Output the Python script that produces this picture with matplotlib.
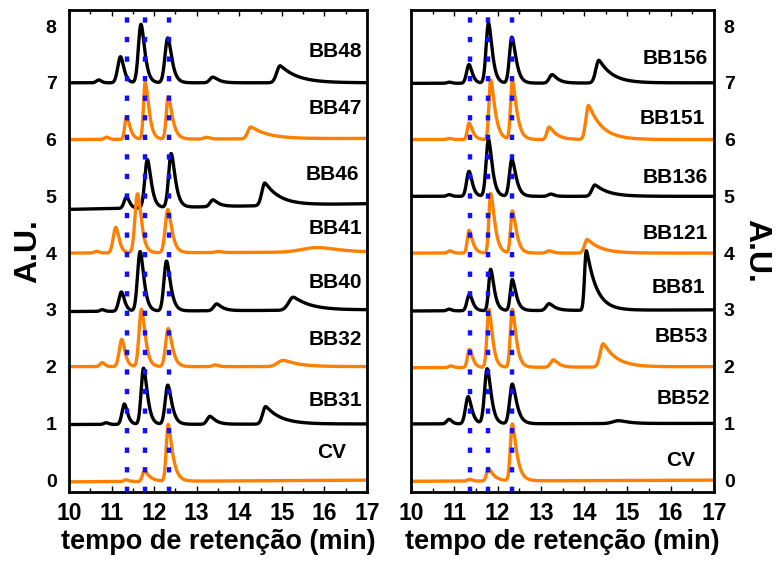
import numpy as np
import matplotlib
matplotlib.use("Agg")
import matplotlib.pyplot as plt

plt.rcParams['font.family'] = ['Liberation Sans', 'DejaVu Sans']
plt.rcParams['font.weight'] = 'bold'

bb48 = [(10.70, 0.05, 0.055, 0.055, 0.02), (11.21, 0.46, 0.065, 0.06, 0.05),
        (11.69, 1.03, 0.06, 0.065, 0.06), (12.32, 0.79, 0.065, 0.065, 0.07),
        (13.38, 0.10, 0.07, 0.07, 0.12), (14.96, 0.30, 0.08, 0.07, 0.40)]
bb47 = [(10.88, 0.04, 0.05, 0.05, 0.02), (11.35, 0.40, 0.04, 0.055, 0.06),
        (11.79, 1.00, 0.04, 0.06, 0.06), (12.33, 0.75, 0.045, 0.06, 0.08),
        (13.23, 0.03, 0.06, 0.06, 0.05), (14.27, 0.21, 0.07, 0.07, 0.40)]
bb46 = [(11.35, 0.20, 0.055, 0.055, 0.04), (11.84, 0.85, 0.06, 0.065, 0.06),
        (12.40, 0.95, 0.06, 0.065, 0.07), (13.38, 0.12, 0.065, 0.065, 0.12),
        (14.60, 0.40, 0.07, 0.06, 0.35)]
bb41 = [(10.65, 0.03, 0.05, 0.05, 0.02), (11.10, 0.45, 0.06, 0.055, 0.05),
        (11.61, 1.04, 0.06, 0.065, 0.06), (12.32, 0.76, 0.06, 0.065, 0.07),
        (13.50, 0.02, 0.06, 0.06, 0.05), (15.82, 0.08, 0.35, 0.40, 0.20)]
bb40 = [(10.78, 0.03, 0.05, 0.05, 0.02), (11.23, 0.34, 0.06, 0.055, 0.05),
        (11.67, 1.05, 0.06, 0.065, 0.06), (12.29, 0.88, 0.06, 0.065, 0.07),
        (13.47, 0.12, 0.07, 0.065, 0.12), (15.27, 0.23, 0.11, 0.09, 0.40)]
bb32 = [(10.78, 0.07, 0.05, 0.05, 0.03), (11.24, 0.48, 0.06, 0.055, 0.05),
        (11.70, 1.01, 0.055, 0.065, 0.06), (12.33, 0.67, 0.06, 0.065, 0.07),
        (13.43, 0.03, 0.06, 0.06, 0.05), (15.03, 0.11, 0.13, 0.11, 0.35)]
bb31 = [(10.87, 0.03, 0.05, 0.05, 0.02), (11.30, 0.36, 0.055, 0.055, 0.05),
        (11.75, 0.99, 0.055, 0.065, 0.06), (12.32, 0.69, 0.06, 0.065, 0.07),
        (13.31, 0.14, 0.065, 0.065, 0.12), (14.62, 0.31, 0.07, 0.06, 0.35)]
cv_a = [(11.34, 0.03, 0.05, 0.05, 0.03), (11.77, 0.19, 0.045, 0.05, 0.12),
        (12.33, 1.00, 0.045, 0.055, 0.09)]

bb156 = [(10.88, 0.02, 0.05, 0.05, 0.02), (11.34, 0.33, 0.055, 0.055, 0.05),
         (11.79, 1.06, 0.055, 0.06, 0.06), (12.33, 0.81, 0.055, 0.065, 0.07),
         (13.26, 0.15, 0.065, 0.065, 0.12), (14.34, 0.40, 0.07, 0.06, 0.30)]
bb151 = [(10.88, 0.02, 0.05, 0.05, 0.02), (11.34, 0.29, 0.04, 0.055, 0.06),
         (11.84, 1.05, 0.04, 0.06, 0.08), (12.34, 1.03, 0.04, 0.06, 0.08),
         (13.19, 0.22, 0.05, 0.06, 0.16), (14.10, 0.60, 0.06, 0.06, 0.30)]
bb136 = [(10.88, 0.03, 0.05, 0.05, 0.02), (11.34, 0.44, 0.055, 0.055, 0.05),
         (11.79, 1.00, 0.055, 0.06, 0.06), (12.33, 0.65, 0.055, 0.065, 0.07),
         (13.23, 0.04, 0.06, 0.06, 0.05), (14.25, 0.20, 0.07, 0.06, 0.30)]
bb121 = [(10.90, 0.04, 0.05, 0.05, 0.02), (11.34, 0.40, 0.04, 0.055, 0.06),
         (11.84, 1.05, 0.04, 0.06, 0.07), (12.34, 0.74, 0.04, 0.06, 0.07),
         (13.19, 0.04, 0.06, 0.06, 0.05), (14.07, 0.24, 0.06, 0.06, 0.30)]
bb81 = [(10.88, 0.03, 0.05, 0.05, 0.02), (11.35, 0.29, 0.055, 0.055, 0.05),
        (11.84, 0.73, 0.045, 0.055, 0.06), (12.34, 0.55, 0.045, 0.055, 0.07),
        (13.19, 0.12, 0.065, 0.065, 0.12), (14.05, 1.05, 0.04, 0.05, 0.22)]
bb53 = [(10.92, 0.03, 0.05, 0.05, 0.02), (11.35, 0.32, 0.045, 0.055, 0.05),
        (11.80, 1.02, 0.045, 0.055, 0.06), (12.34, 1.02, 0.045, 0.055, 0.07),
        (13.29, 0.13, 0.065, 0.065, 0.10), (14.44, 0.41, 0.07, 0.06, 0.30)]
bb52 = [(10.88, 0.08, 0.055, 0.055, 0.03), (11.32, 0.48, 0.06, 0.06, 0.06),
        (11.76, 0.97, 0.06, 0.065, 0.06), (12.34, 0.70, 0.06, 0.065, 0.08),
        (14.79, 0.05, 0.13, 0.13, 0.20)]
cv_b = [(11.35, 0.03, 0.05, 0.05, 0.03), (11.79, 0.22, 0.045, 0.05, 0.12),
        (12.34, 1.00, 0.045, 0.055, 0.09)]

left_names = ["BB48", "BB47", "BB46", "BB41", "BB40", "BB32", "BB31", "CV"]
left_peaks = [bb48, bb47, bb46, bb41, bb40, bb32, bb31, cv_a]
left_base0 = [7.0, 6.0, 4.77, 4.0, 2.97, 2.0, 0.98, -0.03]
left_base1 = [7.0, 6.02, 4.87, 4.02, 3.0, 2.0, 0.99, 0.0]
left_lab_x = [16.88, 16.88, 16.82, 16.88, 16.88, 16.88, 16.88, 16.52]
left_lab_y = [7.55, 6.54, 5.39, 4.44, 3.49, 2.47, 1.41, 0.48]

right_names = ["BB156", "BB151", "BB136", "BB121", "BB81", "BB53", "BB52", "CV"]
right_peaks = [bb156, bb151, bb136, bb121, bb81, bb53, bb52, cv_b]
right_base0 = [6.99, 6.0, 5.0, 4.0, 2.98, 1.98, 0.99, -0.02]
right_base1 = [7.0, 6.0, 5.0, 4.0, 3.0, 2.0, 1.0, 0.0]
right_lab_x = [16.86, 16.79, 16.86, 16.86, 16.79, 16.86, 16.9, 16.56]
right_lab_y = [7.43, 6.37, 5.34, 4.35, 3.40, 2.53, 1.44, 0.35]

marcas = [11.36, 11.78, 12.34]
cores = ["black", "#ff8000"]

t = np.linspace(10, 17, 3000)


def sinal(peaks, b0, b1):
    y = b0 + (b1 - b0) * (t - 10) / 7
    for rt, h, sl, sr, tau in peaks:
        d = t - rt
        esq = np.exp(-0.5 * (d / sl) ** 2)
        dp = np.clip(d, 0, None)
        dir_ = np.exp(-dp ** 2 / (2 * sr ** 2 + tau * dp))
        y = y + h * np.where(d < 0, esq, dir_)
    return y


fig = plt.figure(figsize=(7.79, 5.63), dpi=100)
axL = fig.add_axes([0.0886, 0.126, 0.3825, 0.856])
axR = fig.add_axes([0.5276, 0.126, 0.389, 0.856])

for ax, names, peaks, b0s, b1s, lx, ly in [
        (axL, left_names, left_peaks, left_base0, left_base1, left_lab_x, left_lab_y),
        (axR, right_names, right_peaks, right_base0, right_base1, right_lab_x, right_lab_y)]:
    for i in range(len(names)):
        ax.plot(t, sinal(peaks[i], b0s[i], b1s[i]), color=cores[i % 2], lw=2.4,
                solid_capstyle='butt')
        ax.text(lx[i], ly[i], names[i], ha='right', va='center', fontsize=15,
                fontweight='bold')
    for m in marcas:
        ax.axvline(m, color='#1010ff', lw=3.2, linestyle=(0, (1.2, 3.2)), zorder=5)
    ax.set_xlim(10, 17)
    ax.set_ylim(-0.21, 8.28)
    ax.set_xticks(range(10, 18))
    ax.set_xticks(np.arange(10, 17.01, 0.5), minor=True)
    ax.set_yticks(range(0, 9))
    ax.tick_params(axis='x', which='both', direction='in', length=3, width=1,
                   top=True, labelsize=16.5, pad=7)
    ax.tick_params(axis='x', which='major', length=4)
    ax.tick_params(axis='y', direction='in', length=0, labelsize=14, pad=9)
    for s in ax.spines.values():
        s.set_linewidth(2)
    ax.set_xlabel("tempo de retenção (min)", fontsize=19.5, fontweight='bold', labelpad=3)

axR.yaxis.tick_right()
axR.tick_params(axis='y', pad=7)
axL.set_ylabel("A.U.", fontsize=23, fontweight='bold', labelpad=2)
axR.yaxis.set_label_position('right')
axR.set_ylabel("A.U.", fontsize=23, fontweight='bold', rotation=270, labelpad=26)

fig.savefig("out.png", dpi=100)
